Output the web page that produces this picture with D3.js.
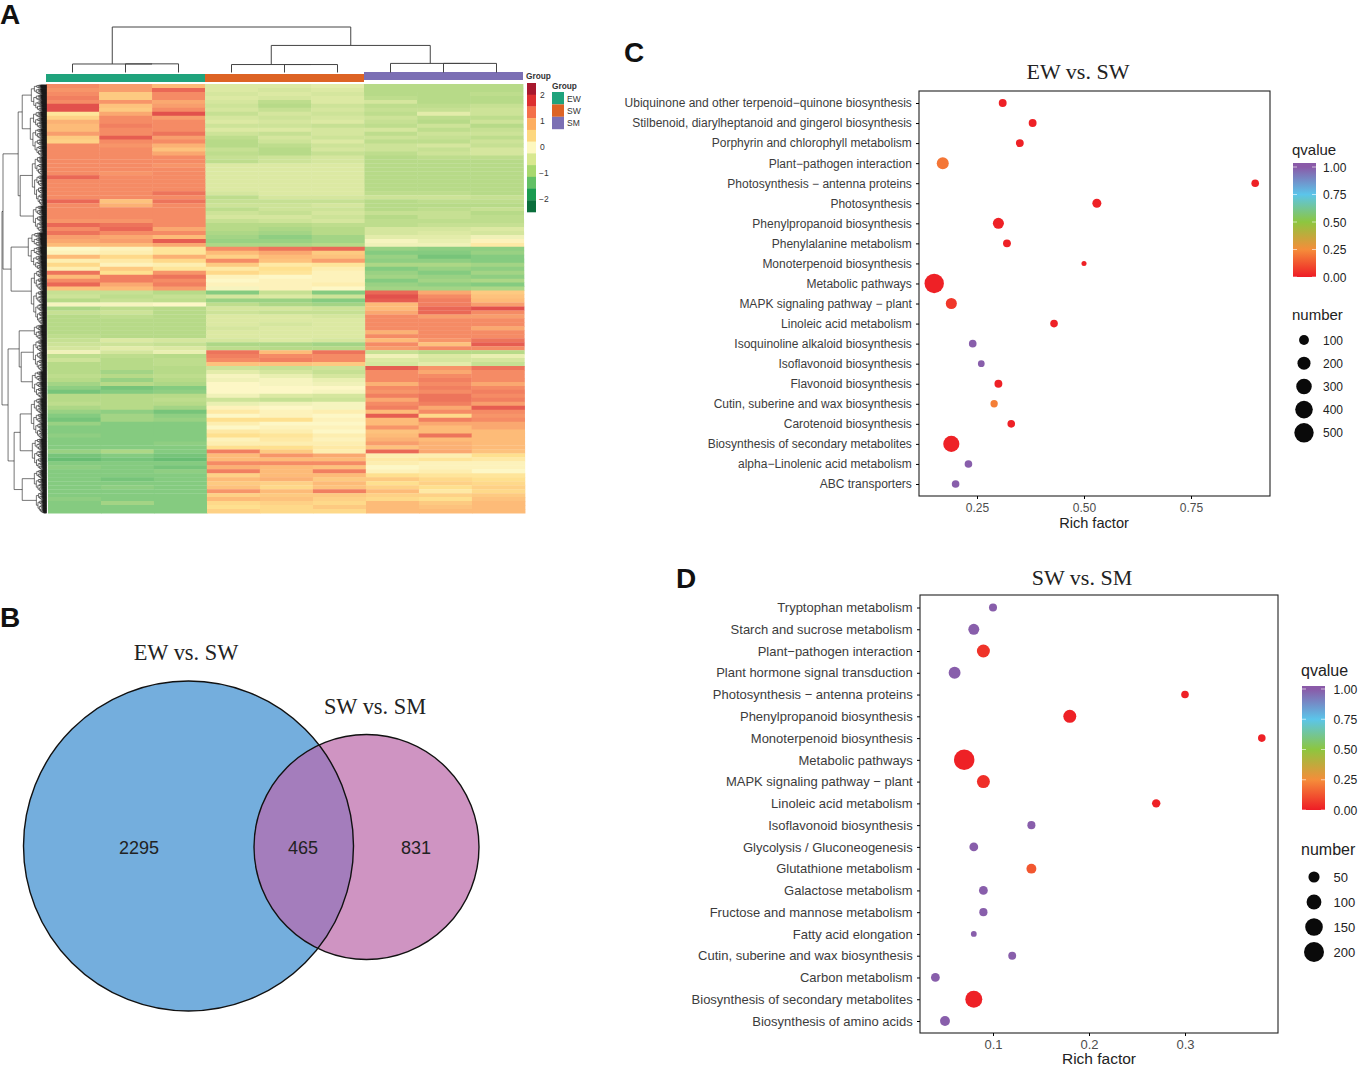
<!DOCTYPE html>
<html><head><meta charset="utf-8">
<script src="https://cdn.jsdelivr.net/npm/d3@7"></script>
<style>html,body{margin:0;background:#fff}svg{display:block}text{font-family:"Liberation Sans",Arial,sans-serif}</style>
</head><body><svg id="c" width="1358" height="1068"></svg>
<script>
// ---------- Panel A data ----------
const sampleNames=["EW1","EW2","EW3","SW1","SW2","SW3","SM1","SM2","SM3"];
const groupNames=["EW","SW","SM"];
const groupColors=["#1fa37c","#dd6324","#7b6fb4"];
const heatRows=[
[1.5,1.3,1,-.5,-.5,-.4,-1,-1,-1],
[1.4,1.3,1.8,-.5,-.6,-.5,-1,-1,-1],
[1.5,.8,1.5,-.6,-.5,-.6,-1,-1,-.9],
[1.6,.8,1.5,-.5,-.6,-.5,-.9,-1,-1],
[1.5,1.4,1.2,-.6,-.9,-.5,-.6,-1,-1],
[2,.9,1.3,-.7,-1,-.7,-.9,-.9,-.8],
[2,.8,1.5,-.6,-.8,-.6,-.8,-.8,-.7],
[.4,1.2,2,-.8,-.6,-.7,-.9,-.4,-.7],
[.7,1.5,1.3,-.6,-.7,-.6,-.7,-.9,-.9],
[1.1,1.5,1.5,-.5,-.6,-.5,-.8,-1,-.7],
[1,1.6,1.5,-.7,-.7,-.8,-.9,-.7,-1],
[1,1.5,1.5,-.5,-.5,-.6,-.6,-.9,-.8],
[1.3,1.5,1.7,-.7,-.8,-.6,-.9,-.7,-.7],
[.8,1.9,1.3,-.9,-.6,-.7,-.7,-.8,-.9],
[.7,1.5,1.5,-1,-.7,-.5,-.9,-.9,-.7],
[1.5,1.4,1.1,-1,-.9,-.7,-.7,-.6,-.8],
[1.5,1.5,.9,-.8,-1,-.6,-.7,-.8,-.6],
[1.5,1.5,1.2,-.9,-1,-.8,-.9,-.7,-.6],
[1.5,1.5,1.5,-.8,-.7,-.6,-1,-.9,-.9],
[1.5,1.5,1.5,-.9,-.7,-.6,-1,-1,-1],
[1.5,1.5,1.4,-.5,-.5,-.5,-1,-1,-1],
[1.5,1.5,1.5,-.5,-.5,-.5,-1,-1,-1],
[1.5,1.4,1.5,-.5,-.5,-.5,-1,-1,-1],
[1.8,1.5,1.5,-.5,-.5,-.5,-1,-1,-1],
[1.5,1.5,1.5,-.5,-.5,-.5,-1,-1,-1],
[1.5,1.5,1.5,-.5,-.5,-.5,-1,-1,-1],
[1.5,1.5,1.5,-.5,-.5,-.5,-1,-1,-1],
[1.5,1.5,1.7,-.6,-.5,-.5,-.9,-.9,-1],
[1.5,1.5,1.5,-.9,-.6,-.6,-.7,-.7,-.8],
[1.8,.9,1.7,-.8,-.8,-.8,-1,-.9,-.9],
[1.5,1.1,1.5,-.7,-.7,-.6,-1,-1,-1],
[1.5,1.5,1.5,-.9,-.7,-.7,-1,-.9,-.8],
[1.5,1.5,1.5,-.7,-.8,-.6,-.8,-.8,-1],
[1.5,1.5,1.5,-.6,-.6,-.7,-1,-.8,-.9],
[1.4,1.4,1.5,-.8,-.7,-.6,-.9,-.9,-.9],
[1.8,1.7,1.5,-1,-1,-.9,-.9,-.8,-.8],
[1.5,1.8,1.2,-1,-1.1,-1,-.6,-.6,-.5],
[1.7,1.5,1.5,-1.1,-1.2,-1,-.6,-.5,-.6],
[1.3,1.2,1,-1.2,-1.4,-1.2,-.4,-.4,-.2],
[1.2,1.3,1.9,-1.3,-1.3,-1.2,-.1,-.3,.1],
[1,1,1.2,-1.1,-1.1,-1,-.2,-.2,.3],
[0,.1,.4,1.5,1.7,1.8,-1.3,-1.4,-1.4],
[.1,.2,.4,1,1.2,.8,-1.5,-1.5,-1.3],
[1,.6,1.1,.7,1,.9,-1.3,-1.6,-1.5],
[.2,.3,.6,1.5,.9,1.3,-1.4,-1.4,-1.5],
[.6,.1,.2,.8,.3,.4,-1.1,-1.1,-1.2],
[.2,.8,.4,.3,.5,.2,-1.5,-1.3,-1.4],
[1.7,.5,1.4,.6,.4,.1,-1.3,-1.5,-1.2],
[1,1.6,1.7,.1,0,.1,-1.2,-1.3,-1.4],
[1.5,1.6,1.5,0,.1,.1,-1.5,-1.2,-1.1],
[1.8,1.2,1.6,.1,.1,.2,-1.3,-1.4,-1.5],
[.9,1,1.3,-.1,.1,0,-1.2,-1.2,-1.1],
[-.8,-.8,-1,-1.5,-.8,-1.5,1.8,1.2,.8],
[-.7,-.9,-.8,-.6,-.5,-.7,2,1.5,.9],
[-1,-.8,-.9,-1.3,-1.3,-1.5,1.9,1.6,1],
[-.1,-.1,0,-.9,-1.1,-1.2,1,1.6,1.3],
[-1.1,-.9,-1,-.6,-.6,-.7,1,1.8,2],
[-.8,-.7,-1,-.7,-.8,-.8,1.2,1.8,1.5],
[-1,-.9,-1,-.5,-.5,-.6,1.5,1.3,1.3],
[-1,-1,-1,-.5,-.5,-.5,1.5,1.5,1.5],
[-1,-1,-1,-.5,-.6,-.5,1.5,1.5,1.5],
[-1,-1,-1,-.6,-.5,-.5,1.5,1.5,1.2],
[-1,-1,-1,-.5,-.5,-.5,1.1,1.5,1.5],
[-.9,-1,-1,-.5,-.5,-.5,1.5,1.5,1.5],
[-.8,-.5,-.6,-.6,-.5,-.6,1,1.4,1.7],
[-.7,-.7,-.8,-1.1,-1.1,-1.2,1.5,.9,1.9],
[-.6,-.4,-.5,-.9,-1,-1,1.3,1.5,1.5],
[-.2,-.6,-.3,1.7,1,1.7,-.8,-1,-1],
[-.9,-.9,-1,1.6,1.5,1.5,-.2,-.5,-.3],
[-.7,-1,-.9,1.5,1.6,1.5,-.5,-.6,-.6],
[-1,-1,-.9,.9,.9,.8,-.6,-.4,-.8],
[-1,-1,-1,-.7,-.8,-.7,1.9,1.4,1.7],
[-1,-1.2,-1,-.4,-.6,-.8,1.5,1.2,1.5],
[-.9,-1,-.9,-.1,-.3,-.6,1.5,1.5,1.5],
[-1,-1.3,-1,-.2,-.1,-.3,1.5,1.6,1.5],
[-1.2,-1,-1.1,0,-.1,-.2,1.1,1.5,1.2],
[-1.4,-1.6,-1.5,0,0,0,1.5,1.6,1.5],
[-1.6,-1.5,-1.4,0,0,-.1,1.4,1.5,1.6],
[-1,-1,-1,-.2,-.5,-.6,1.6,1.7,1.5],
[-1,-1,-.9,-.7,-.8,-.7,1.2,1.7,1.6],
[-.9,-1,-1,-.3,-.2,-.1,1.5,1.6,1.3],
[-1.1,-1,-1.2,.1,0,-.1,1.6,1.2,1.9],
[-1.3,-1.4,-1.6,.3,.1,.2,1,1.5,1.5],
[-1.5,-1.2,-1.4,0,.1,0,1.9,.6,1.4],
[-1.6,-1.2,-1.3,.5,.5,.1,1,1.6,1.5],
[-1.3,-1.5,-1.5,.2,0,0,1,1.2,1.2],
[-1.5,-1.5,-1.5,0,.1,.1,1.4,1,1.2],
[-1.5,-1.5,-1.5,.3,.2,0,.9,1,1],
[-1.4,-1.5,-1.5,.5,.4,.2,1,1.7,1],
[-1.5,-1.5,-1.5,.1,.3,.1,1.1,1,1],
[-1.5,-1.5,-1.4,.2,.2,.2,1.3,1.1,1],
[-1.5,-1.5,-1.5,.5,.5,.3,.9,1.1,1],
[-1.3,-1.1,-1.5,1.6,.8,.2,1.8,1.2,.9],
[-1.6,-1.5,-1.6,1,1.4,1.2,.2,.2,.5],
[-1.7,-1.6,-1.7,1,1,1,.3,.4,.3],
[-1.5,-1.5,-1.5,1.5,1.5,1.5,.2,.1,.1],
[-1.4,-1.5,-1.6,1.1,1,.9,0,.1,.1],
[-1.5,-1.5,-1.4,1.6,1,1.6,.1,.2,0],
[-1.5,-1.5,-1.5,.7,1,1,.5,.4,.4],
[-1.5,-1.6,-1.5,1,1.1,.8,.8,.6,.5],
[-1.5,-1.5,-1.5,.8,.7,1,.5,.7,.6],
[-1.5,-1.4,-1.5,.9,.6,.9,.7,.5,.7],
[-1.5,-1.5,-1.5,1.4,1,1.6,1,.3,.6],
[-1.5,-1.5,-1.5,.7,.8,.8,.7,.7,.8],
[-1.4,-1.5,-1.5,1,.9,.7,.6,.5,.9],
[-1.5,-1.2,-1.5,.6,.7,.6,1,.8,1],
[-1.5,-1.5,-1.5,.5,.6,.8,1,.9,1],
[-1.5,-1.5,-1.5,.7,.6,.6,1,1,1]
];
const heatDomain=[-2,-1.5,-1,-.5,0,.5,1,1.5,2];
const heatRange=["#3fa860","#85cb80","#b7da88","#dce9a3","#fdf7c6","#fee08f","#fdbb78","#f58b65","#e2514c"];
const keyColors=["#a8192e","#dd3030","#f4704a","#fdae61","#fdd77f","#fdf8c0","#d8e88f","#a8d86e","#62c065","#1a9c50","#0a6e3c"];
const keyTicks=[2,1,0,-1,-2];
// column tree: leaves are sample index, inner nodes carry a height
const colTree={h:100,children:[
 {h:18.7,children:[{h:0,s:0},{h:19,children:[{h:0,s:1},{h:0,s:2}]}]},
 {h:59.5,children:[
  {h:17.5,children:[{h:0,s:3},{h:17.5,children:[{h:0,s:4},{h:0,s:5}]}]},
  {h:20,children:[{h:0,s:6},{h:20,children:[{h:0,s:7},{h:0,s:8}]}]}
 ]}
]};
// row tree: [height, child, child]; a pair {n,h} is a tight cluster of n genes
const rowTree=[44,
 [43,
  [28,[24,{n:150,h:15},{n:250,h:16}],[26,{n:275,h:14},{n:150,h:13}]],
  [35,{n:210,h:18},{n:305,h:15}]
 ],
 [38,
  [27,{n:85,h:12},[25,{n:175,h:13},{n:150,h:14}]],
  [32,[26,{n:225,h:15},{n:175,h:14}],[24,{n:125,h:12},{n:115,h:10}]]
 ]
];
// ---------- Panel B data ----------
const vennNames=["EW vs. SW","SW vs. SM"];
const vennCounts=[2295,465,831];
// ---------- Panel C data ----------
const pathwaysC=["Ubiquinone and other terpenoid\u2212quinone biosynthesis","Stilbenoid, diarylheptanoid and gingerol biosynthesis","Porphyrin and chlorophyll metabolism","Plant\u2212pathogen interaction","Photosynthesis \u2212 antenna proteins","Photosynthesis","Phenylpropanoid biosynthesis","Phenylalanine metabolism","Monoterpenoid biosynthesis","Metabolic pathways","MAPK signaling pathway \u2212 plant","Linoleic acid metabolism","Isoquinoline alkaloid biosynthesis","Isoflavonoid biosynthesis","Flavonoid biosynthesis","Cutin, suberine and wax biosynthesis","Carotenoid biosynthesis","Biosynthesis of secondary metabolites","alpha\u2212Linolenic acid metabolism","ABC transporters"];
const richC=[.31,.38,.35,.17,.90,.53,.30,.32,.50,.15,.19,.43,.24,.26,.30,.29,.33,.19,.23,.20];
const qC=[.01,.01,.01,.2,.01,.01,.01,.01,.01,.01,.06,.01,.99,.99,.01,.22,.01,.01,.99,.99];
const numC=[55,55,55,163,50,79,133,55,14,500,133,50,50,35,55,45,50,330,50,50];
const ticksC=[.25,.5,.75];
const sizeLegendC=[100,200,300,400,500];
// ---------- Panel D data ----------
const pathwaysD=["Tryptophan metabolism","Starch and sucrose metabolism","Plant\u2212pathogen interaction","Plant hormone signal transduction","Photosynthesis \u2212 antenna proteins","Phenylpropanoid biosynthesis","Monoterpenoid biosynthesis","Metabolic pathways","MAPK signaling pathway \u2212 plant","Linoleic acid metabolism","Isoflavonoid biosynthesis","Glycolysis / Gluconeogenesis","Glutathione metabolism","Galactose metabolism","Fructose and mannose metabolism","Fatty acid elongation","Cutin, suberine and wax biosynthesis","Carbon metabolism","Biosynthesis of secondary metabolites","Biosynthesis of amino acids"];
const richD=[.10,.08,.09,.06,.30,.18,.38,.07,.09,.27,.14,.08,.14,.09,.09,.08,.12,.04,.08,.05];
const qD=[.99,.99,.05,.99,.01,.01,.01,.01,.04,.01,.99,.99,.13,.99,.99,.99,.99,.99,.01,.99];
const numD=[21,48,73,59,18,73,18,210,73,24,21,27,37,27,22,8,20,27,137,37];
const ticksD=[.1,.2,.3];
const sizeLegendD=[50,100,150,200];
const qStops=[0,.25,.5,.75,1];
const qColors=["#ee1c25","#f58d3a","#8dc63f","#5bc5ea","#8a5aa8"];
const qTicks=[0,.25,.5,.75,1];

const svg=d3.select("#c");
// ---------- Panel letters ----------
[["A",0,24],["B",0,627],["C",624,62],["D",676,588]].forEach(([t,x,y])=>
 svg.append("text").attr("x",x).attr("y",y).attr("font-size",28).attr("font-weight","bold").attr("fill","#111").text(t));

// ---------- Panel A ----------
const hx=d3.scaleBand().domain(d3.range(9)).range([46,523]);
const hy=d3.scaleBand().domain(d3.range(heatRows.length)).range([84,513]);
const hc=d3.scaleLinear().domain(heatDomain).range(heatRange);
const gH=svg.append("g").attr("transform","translate(0,84) skewX(0.27) translate(0,-84)");
heatRows.forEach((row,i)=>gH.selectAll(null).data(row).enter().append("rect")
  .attr("x",(d,j)=>hx(j)).attr("y",hy(i)).attr("width",hx.bandwidth()+.4).attr("height",hy.bandwidth()+.4)
  .attr("fill",d=>hc(d)));
// annotation bars
const annoTop=[74,74,72];
groupNames.forEach((g,k)=>svg.append("rect").attr("x",hx(k*3)).attr("y",annoTop[k]).attr("width",hx.bandwidth()*3).attr("height",8).attr("fill",groupColors[k]));
// column dendrogram
const ch=d3.scaleLinear().domain([0,100]).range([72.5,27]);
const cRoot=d3.hierarchy(colTree);
cRoot.eachAfter(n=>{n.px=n.children?d3.mean(n.children,c=>c.px):hx(n.data.s)+hx.bandwidth()/2;});
const cPath=d3.path();
cRoot.each(n=>{if(n.children){const y=ch(n.data.h);
  cPath.moveTo(n.children[0].px,ch(n.children[0].data.h));cPath.lineTo(n.children[0].px,y);cPath.lineTo(n.children[1].px,y);cPath.lineTo(n.children[1].px,ch(n.children[1].data.h));}});
svg.append("path").attr("d",cPath.toString()).attr("fill","none").attr("stroke","#444").attr("stroke-width",1);
// row dendrogram
function expand(n){
 if(Array.isArray(n))return{h:n[0],children:n.slice(1).map(expand)};
 if(n.n<=1)return{h:0};
 const a=Math.max(1,Math.round(n.n*.38));
 return{h:n.h,children:[expand({n:a,h:n.h*.8}),expand({n:n.n-a,h:n.h*.84})]};
}
const rRoot=d3.hierarchy(expand(rowTree));
const nLeaf=rRoot.leaves().length;
const ry=d3.scaleLinear().domain([0,nLeaf-1]).range([85,513]);
const rx=d3.scaleLinear().domain([0,44]).range([46.5,2]);
let li=0;
rRoot.eachAfter(n=>{n.py=n.children?d3.mean(n.children,c=>c.py):ry(li++);});
const rPath=d3.path();
rRoot.each(n=>{if(n.children){const x=rx(n.data.h);
  const[a,b]=n.children;rPath.moveTo(rx(a.data.h),a.py);rPath.lineTo(x,a.py);rPath.lineTo(x,b.py);rPath.lineTo(rx(b.data.h),b.py);}});
svg.append("path").attr("d",rPath.toString()).attr("fill","none").attr("stroke","#1a1a1a").attr("stroke-width",.6);
// colour key
svg.append("text").attr("x",526).attr("y",79).attr("font-size",8.3).attr("font-weight","bold").attr("fill","#333").text("Group");
const ky=d3.scaleBand().domain(d3.range(keyColors.length)).range([83,212]);
svg.selectAll(null).data(keyColors).enter().append("rect").attr("x",527).attr("width",9).attr("y",(d,i)=>ky(i)).attr("height",ky.bandwidth()+.3).attr("fill",d=>d);
const kt=d3.scaleLinear().domain([2,-2]).range([95,199]);
svg.selectAll(null).data(keyTicks).enter().append("text").attr("x",d=>d<0?539:540).attr("y",d=>kt(d)+3).attr("font-size",8.5).attr("fill","#333").text(d=>d<0?"\u2212"+(-d):d);
svg.append("text").attr("x",552).attr("y",89).attr("font-size",8.3).attr("font-weight","bold").attr("fill","#333").text("Group");
groupNames.forEach((g,k)=>{
 svg.append("rect").attr("x",552).attr("y",92+k*12.4).attr("width",12).attr("height",12.4).attr("fill",groupColors[k]);
 svg.append("text").attr("x",567).attr("y",101.5+k*12.4).attr("font-size",8.5).attr("fill","#333").text(g);
});

// ---------- Panel B ----------
const vennGeom=[{cx:188.5,cy:846,r:165},{cx:366.5,cy:847,r:112.5}];
const defs=svg.append("defs");
defs.append("clipPath").attr("id","vc").append("circle").attr("cx",vennGeom[0].cx).attr("cy",vennGeom[0].cy).attr("r",vennGeom[0].r);
const vColors=["#74aedd","#cf94c2"];
vennGeom.forEach((v,i)=>svg.append("circle").attr("cx",v.cx).attr("cy",v.cy).attr("r",v.r).attr("fill",vColors[i]));
svg.append("circle").attr("clip-path","url(#vc)").attr("cx",vennGeom[1].cx).attr("cy",vennGeom[1].cy).attr("r",vennGeom[1].r).attr("fill","#a47dbc");
vennGeom.forEach(v=>svg.append("circle").attr("cx",v.cx).attr("cy",v.cy).attr("r",v.r).attr("fill","none").attr("stroke","#111").attr("stroke-width",1.4));
[[186,660],[375,714]].forEach(([x,y],i)=>svg.append("text").attr("x",x).attr("y",y).attr("text-anchor","middle").style("font-family","'Liberation Serif',serif").attr("font-size",22.4).attr("fill","#222").text(vennNames[i]));
[139,303,416].forEach((x,i)=>svg.append("text").attr("x",x).attr("y",854).attr("text-anchor","middle").attr("font-size",18).attr("fill","#222").text(vennCounts[i]));

// ---------- Bubble panels ----------
function bubble(o){
 const x=d3.scaleLinear().domain(o.xd).range(o.xr);
 const y=d3.scalePoint().domain(o.names).range([o.y0,o.y1]);
 const col=d3.scaleLinear().domain(qStops).range(qColors);
 const size=d3.scaleSqrt().domain(o.sd).range(o.sr);
 const g=svg.append("g");
 g.append("rect").attr("x",o.box[0]).attr("y",o.box[1]).attr("width",o.box[2]-o.box[0]).attr("height",o.box[3]-o.box[1]).attr("fill","#fff").attr("stroke","#222").attr("stroke-width",1.1);
 const ax=d3.axisBottom(x).tickValues(o.ticks).tickSize(3).tickFormat(o.fmt);
 const ga=g.append("g").attr("transform",`translate(0,${o.box[3]})`).call(ax);
 ga.select(".domain").remove();
 ga.selectAll("text").attr("font-size",o.lab).attr("fill","#4d4d4d").attr("dy",".8em");
 const ay=d3.axisLeft(y).tickSize(3);
 const gy=g.append("g").attr("transform",`translate(${o.box[0]},0)`).call(ay);
 gy.select(".domain").remove();
 gy.selectAll("text").attr("font-size",o.lab).attr("fill","#3c3c3c").attr("dx","-.1em");
 g.selectAll(null).data(o.names).enter().append("circle")
  .attr("cx",(d,i)=>x(o.rich[i])).attr("cy",d=>y(d)).attr("r",(d,i)=>size(o.num[i])).attr("fill",(d,i)=>col(o.q[i]));
 g.append("text").attr("x",o.tx).attr("y",o.ty).attr("text-anchor","middle").style("font-family","'Liberation Serif',serif").attr("font-size",22).attr("fill","#222").text(o.title);
 g.append("text").attr("x",o.xlx).attr("y",o.xly).attr("text-anchor","middle").attr("font-size",o.xfs).attr("fill","#222").text("Rich factor");
 // legends
 const L=o.leg;
 g.append("text").attr("x",L.x).attr("y",L.qy).attr("font-size",L.fs).attr("fill","#222").text("qvalue");
 const gid="g"+o.id;
 const lg=defs.append("linearGradient").attr("id",gid).attr("x1",0).attr("x2",0).attr("y1",1).attr("y2",0);
 const qy=d3.scaleLinear().domain([0,1]).range([L.y0,L.y1]);
 const topq=qy.invert(L.barTop);
 qStops.forEach((s,i)=>lg.append("stop").attr("offset",s/topq).attr("stop-color",qColors[i]));
 g.append("rect").attr("x",L.bx).attr("y",L.barTop).attr("width",23).attr("height",L.y0-L.barTop).attr("fill",`url(#${gid})`);
 qTicks.forEach(t=>{
  g.append("line").attr("x1",L.bx).attr("x2",L.bx+4).attr("y1",qy(t)).attr("y2",qy(t)).attr("stroke","#fff").attr("stroke-width",.6);
  g.append("line").attr("x1",L.bx+19).attr("x2",L.bx+23).attr("y1",qy(t)).attr("y2",qy(t)).attr("stroke","#fff").attr("stroke-width",.6);
  g.append("text").attr("x",L.tx).attr("y",qy(t)+4.5).attr("font-size",L.lfs).attr("fill","#222").text(t.toFixed(2));
 });
 g.append("text").attr("x",L.x).attr("y",L.ny).attr("font-size",L.fs).attr("fill","#222").text("number");
 o.sleg.forEach((s,i)=>{
  const cy=L.sy[0]+i*L.sy[1];
  g.append("circle").attr("cx",L.cx).attr("cy",cy).attr("r",size(s)).attr("fill","#0a0a0a");
  g.append("text").attr("x",L.tx).attr("y",cy+4.5).attr("font-size",L.nfs).attr("fill","#222").text(s);
 });
}
bubble({id:"C",names:pathwaysC,rich:richC,q:qC,num:numC,ticks:ticksC,sleg:sizeLegendC,fmt:d3.format(".2f"),
 xd:[.25,.75],xr:[977,1191],y0:103,y1:484,box:[919,91,1270,496],sd:[10,500],sr:[2.3,9.7],lab:12,
 title:"EW vs. SW",tx:1078,ty:79,xlx:1094,xly:528,xfs:14.6,
 leg:{x:1292,qy:155,bx:1293,barTop:163,y0:277,y1:167,tx:1323,ny:320,sy:[340,23.2],cx:1304,fs:15,lfs:12,nfs:12}});
bubble({id:"D",names:pathwaysD,rich:richD,q:qD,num:numD,ticks:ticksD,sleg:sizeLegendD,fmt:d3.format(".1f"),
 xd:[.1,.3],xr:[993,1185],y0:607.5,y1:1021,box:[920,595,1278,1033],sd:[4,200],sr:[2.4,10],lab:13,
 title:"SW vs. SM",tx:1082,ty:585,xlx:1099,xly:1064,xfs:15.5,
 leg:{x:1301,qy:676,bx:1302,barTop:686,y0:810,y1:689,tx:1333.5,ny:855,sy:[877,25],cx:1314,fs:16,lfs:12.2,nfs:13}});
</script></body></html>
